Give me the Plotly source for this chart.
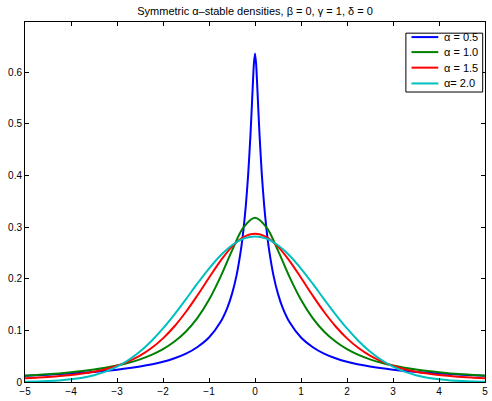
import plotly.graph_objects as go

# ---- data ----
x_grid = [-5, -4.75, -4.5, -4.25, -4, -3.75, -3.5, -3.25, -3, -2.75, -2.5, -2.25, -2,
          -1.75, -1.5, -1.25, -1, -0.75, -0.5, -0.25, 0, 0.25, 0.5, 0.75, 1, 1.25, 1.5,
          1.75, 2, 2.25, 2.5, 2.75, 3, 3.25, 3.5, 3.75, 4, 4.25, 4.5, 4.75, 5]

alpha_10 = [0.0122, 0.0135, 0.0150, 0.0167, 0.0187, 0.0211, 0.0240, 0.0275, 0.0318, 0.0372,
            0.0439, 0.0525, 0.0637, 0.0784, 0.0979, 0.1242, 0.1592, 0.2037, 0.2546, 0.2996,
            0.3183, 0.2996, 0.2546, 0.2037, 0.1592, 0.1242, 0.0979, 0.0784, 0.0637, 0.0525,
            0.0439, 0.0372, 0.0318, 0.0275, 0.0240, 0.0211, 0.0187, 0.0167, 0.0150, 0.0135, 0.0122]

alpha_15 = [0.0071, 0.0083, 0.0097, 0.0115, 0.0137, 0.0164, 0.0200, 0.0248, 0.0314, 0.0400,
            0.0511, 0.0658, 0.0845, 0.1080, 0.1361, 0.1681, 0.2020, 0.2347, 0.2623, 0.2808,
            0.2873, 0.2808, 0.2623, 0.2347, 0.2020, 0.1681, 0.1361, 0.1080, 0.0845, 0.0658,
            0.0511, 0.0400, 0.0314, 0.0248, 0.0200, 0.0164, 0.0137, 0.0115, 0.0097, 0.0083, 0.0071]

alpha_20 = [0.0005, 0.0010, 0.0018, 0.0031, 0.0052, 0.0084, 0.0132, 0.0201, 0.0297, 0.0426,
            0.0591, 0.0796, 0.1038, 0.1312, 0.1607, 0.1909, 0.2197, 0.2451, 0.2650, 0.2777,
            0.2821, 0.2777, 0.2650, 0.2451, 0.2197, 0.1909, 0.1607, 0.1312, 0.1038, 0.0796,
            0.0591, 0.0426, 0.0297, 0.0201, 0.0132, 0.0084, 0.0052, 0.0031, 0.0018, 0.0010, 0.0005]

x_05 = [-5, -4.5, -4, -3.5, -3, -2.5, -2, -1.75, -1.5, -1.25, -1, -0.75, -0.6, -0.5, -0.4,
        -0.3, -0.25, -0.2, -0.15, -0.1, -0.075, -0.05, -0.025, 0, 0.025, 0.05, 0.075, 0.1,
        0.15, 0.2, 0.25, 0.3, 0.4, 0.5, 0.6, 0.75, 1, 1.25, 1.5, 1.75, 2, 2.5, 3, 3.5, 4, 4.5, 5]
alpha_05 = [0.0123, 0.0142, 0.0165, 0.0196, 0.0238, 0.0299, 0.0391, 0.0459, 0.0549, 0.0679,
            0.0861, 0.1161, 0.1443, 0.1708, 0.2071, 0.2598, 0.2957, 0.3412, 0.3999, 0.4764,
            0.5222, 0.5709, 0.6156, 0.6366, 0.6156, 0.5709, 0.5222, 0.4764, 0.3999, 0.3412,
            0.2957, 0.2598, 0.2071, 0.1708, 0.1443, 0.1161, 0.0861, 0.0679, 0.0549, 0.0459,
            0.0391, 0.0299, 0.0238, 0.0196, 0.0165, 0.0142, 0.0123]

x_ticks = [-5, -4, -3, -2, -1, 0, 1, 2, 3, 4, 5]
y_ticks = [0, 0.1, 0.2, 0.3, 0.4, 0.5, 0.6]
y_tick_labels = ["0", "0.1", "0.2", "0.3", "0.4", "0.5", "0.6"]

legend_labels = ["α = 0.5", "α = 1.0", "α = 1.5", "α= 2.0"]
colors = ["rgb(0,0,255)", "rgb(0,128,0)", "rgb(255,0,0)", "rgb(0,191,191)"]

FONT = "Liberation Sans, Arial, Helvetica, sans-serif"

fig = go.Figure()
fig.add_trace(go.Scatter(x=x_05, y=alpha_05, mode="lines", name=legend_labels[0],
                         line=dict(color=colors[0], width=2, shape="spline", smoothing=0.6),
                         showlegend=False))
fig.add_trace(go.Scatter(x=x_grid, y=alpha_10, mode="lines", name=legend_labels[1],
                         line=dict(color=colors[1], width=2, shape="spline"), showlegend=False))
fig.add_trace(go.Scatter(x=x_grid, y=alpha_15, mode="lines", name=legend_labels[2],
                         line=dict(color=colors[2], width=2, shape="spline"), showlegend=False))
fig.add_trace(go.Scatter(x=x_grid, y=alpha_20, mode="lines", name=legend_labels[3],
                         line=dict(color=colors[3], width=2, shape="spline"), showlegend=False))

# manual legend box (MATLAB style)
shapes = [dict(type="rect", xref="paper", yref="paper", x0=0.828, x1=0.995, y0=0.8055, y1=0.969,
               line=dict(color="black", width=1), fillcolor="white", layer="above")]
row_y = [0.9581, 0.9164, 0.8732, 0.8293]
annotations = []
for lab, col, ry in zip(legend_labels, colors, row_y):
    shapes.append(dict(type="line", xref="paper", yref="paper", x0=0.8402, x1=0.8985,
                       y0=ry, y1=ry, line=dict(color=col, width=2), layer="above"))
    annotations.append(dict(xref="paper", yref="paper", x=0.906, y=ry, text=lab,
                            showarrow=False, xanchor="left", yanchor="middle",
                            font=dict(family=FONT, size=11, color="black")))

fig.update_layout(
    width=492, height=401,
    margin=dict(l=25, r=4, t=22, b=14),
    paper_bgcolor="white", plot_bgcolor="white",
    title=dict(text="Symmetric α–stable densities, β = 0, γ = 1, δ = 0",
               x=0.5, xref="paper", xanchor="center",
               y=1 - 11 / 401, yref="container", yanchor="middle",
               font=dict(family=FONT, size=11, color="black")),
    shapes=shapes, annotations=annotations,
    showlegend=False,
)
fig.update_xaxes(range=[-5, 5], tickvals=x_ticks, ticks="inside", ticklen=4,
                 tickcolor="black", showline=True, linecolor="black", linewidth=1,
                 mirror="ticks", showgrid=False, zeroline=False,
                 tickfont=dict(family=FONT, size=10, color="black"))
fig.update_yaxes(range=[0, 0.6975], tickvals=y_ticks, ticktext=y_tick_labels,
                 ticks="inside", ticklen=4, tickcolor="black", showline=True,
                 linecolor="black", linewidth=1, mirror="ticks", showgrid=False,
                 zeroline=False, tickfont=dict(family=FONT, size=10, color="black"))

fig.write_html(
    "out.html",
    config={"displayModeBar": False},
    post_script="document.documentElement.style.margin='0';"
                "document.body.style.margin='0';document.body.style.padding='0';"
                "document.body.style.overflow='hidden';",
)
